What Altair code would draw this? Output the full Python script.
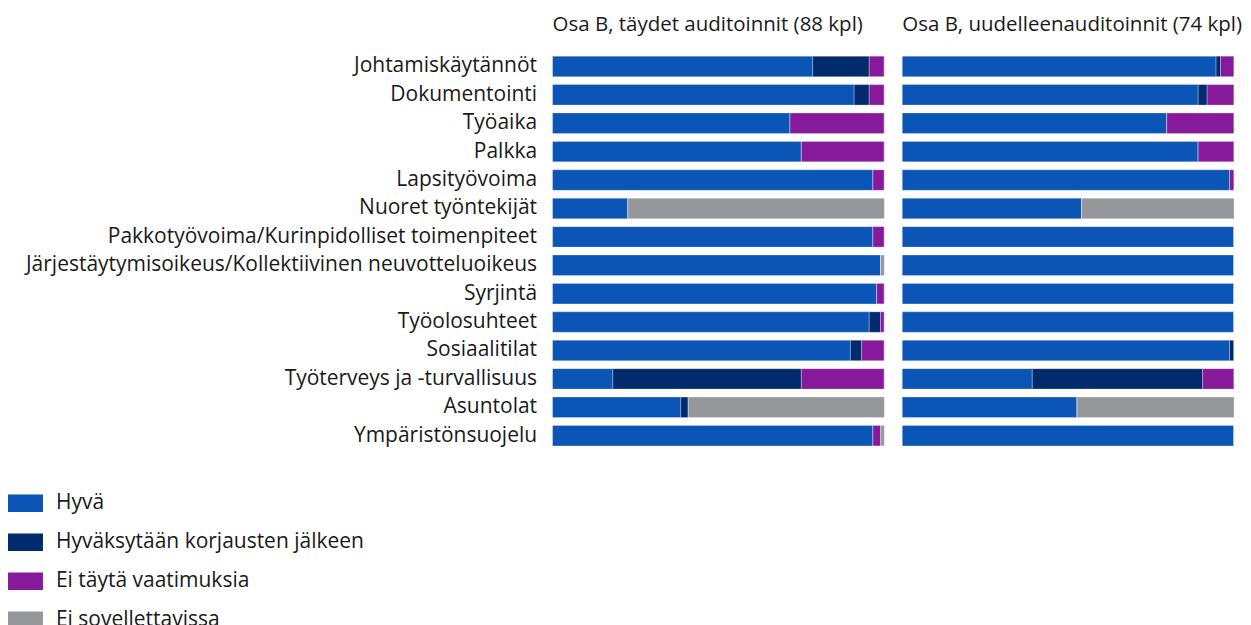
import altair as alt
import pandas as pd

FONT = "Open Sans"

categories = [
    "Johtamiskäytännöt", "Dokumentointi", "Työaika", "Palkka", "Lapsityövoima",
    "Nuoret työntekijät", "Pakkotyövoima/Kurinpidolliset toimenpiteet",
    "Järjestäytymisoikeus/Kollektiivinen neuvotteluoikeus", "Syrjintä",
    "Työolosuhteet", "Sosiaalitilat", "Työterveys ja -turvallisuus", "Asuntolat",
    "Ympäristönsuojelu",
]
statuses = ["Hyvä", "Hyväksytään korjausten jälkeen", "Ei täytä vaatimuksia", "Ei sovellettavissa"]
colors = ["#0a55b5", "#022b6d", "#861a9a", "#96979a"]

title_a = "Osa B, täydet auditoinnit (88 kpl)"
hyva_a = [69, 80, 63, 66, 85, 20, 85, 87, 86, 84, 79, 16, 34, 85]
korj_a = [15, 4, 0, 0, 0, 0, 0, 0, 0, 3, 3, 50, 2, 0]
ei_a = [4, 4, 25, 22, 3, 0, 3, 0, 2, 1, 6, 22, 0, 2]
na_a = [0, 0, 0, 0, 0, 68, 0, 1, 0, 0, 0, 0, 52, 1]

title_b = "Osa B, uudelleenauditoinnit (74 kpl)"
hyva_b = [70, 66, 59, 66, 73, 40, 74, 74, 74, 74, 73, 29, 39, 74]
korj_b = [1, 2, 0, 0, 0, 0, 0, 0, 0, 0, 1, 38, 0, 0]
ei_b = [3, 6, 15, 8, 1, 0, 0, 0, 0, 0, 0, 7, 0, 0]
na_b = [0, 0, 0, 0, 0, 34, 0, 0, 0, 0, 0, 0, 35, 0]


def make_df(series):
    rows = []
    for si, (status, vals) in enumerate(zip(statuses, series)):
        for cat, v in zip(categories, vals):
            rows.append({"cat": cat, "status": status, "ord": si, "n": v})
    return pd.DataFrame(rows)


df_a = make_df([hyva_a, korj_a, ei_a, na_a])
df_b = make_df([hyva_b, korj_b, ei_b, na_b])

legend = alt.Legend(
    title=None, orient="none", legendX=-545, legendY=434, direction="vertical",
    symbolType="M-1,-0.5H1V0.5H-1Z", symbolSize=1225, symbolStrokeWidth=0,
    symbolOpacity=1, labelFontSize=21, labelFont=FONT, labelColor="#1a1a1a",
    labelOffset=13, rowPadding=11, padding=0, labelLimit=0,
)


def panel(df, title, show_axis):
    yaxis = alt.Axis(
        labelFontSize=21, labelFont=FONT, labelColor="#1a1a1a", ticks=False,
        domain=False, labelPadding=16, labelLimit=0, title=None,
    ) if show_axis else None
    return alt.Chart(
        df,
        title=alt.Title(title, anchor="start", frame="group", fontSize=20.5,
                        fontWeight="normal", font=FONT, color="#1a1a1a", offset=17),
    ).mark_bar(stroke="white", strokeWidth=0.4, strokeOpacity=0.7).encode(
        x=alt.X("n:Q", stack="normalize", axis=None),
        y=alt.Y("cat:N", sort=categories, axis=yaxis,
                scale=alt.Scale(paddingInner=0.28, paddingOuter=0.14)),
        color=alt.Color("status:N", scale=alt.Scale(domain=statuses, range=colors),
                        legend=legend),
        order=alt.Order("ord:Q"),
    ).properties(width=332, height=398)


chart = alt.hconcat(
    panel(df_a, title_a, True), panel(df_b, title_b, False), spacing=16,
    padding={"left": 0, "top": 6, "right": 0, "bottom": 0},
).configure(background="white").configure_view(strokeWidth=0, stroke="transparent")

chart.save("out.html", embed_options={"renderer": "svg", "actions": False})
